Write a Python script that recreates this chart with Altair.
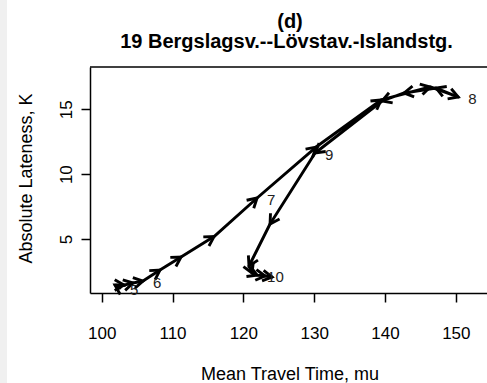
import math
import altair as alt
import pandas as pd

# ---- data ----
mean_travel_time = [102.58, 101.88, 103.15, 104.42, 105.83, 108.23, 111.20, 115.86,
                    121.94, 130.27, 139.45, 146.37, 150.33, 147.22, 142.70, 139.59,
                    130.13, 123.77, 120.80, 121.23, 121.94, 123.07, 124.05]
absolute_lateness = [1.22, 1.45, 1.45, 1.61, 1.76, 2.61, 3.61, 5.19,
                     8.16, 12.09, 15.72, 16.72, 15.95, 16.64, 16.26, 15.64,
                     11.63, 6.16, 2.92, 2.38, 2.22, 2.15, 2.07]
hour_labels = ["5", "", "", "", "6", "", "", "", "7", "", "", "", "8", "", "", "",
               "9", "", "", "", "10", "", ""]
x_ticks = [100, 110, 120, 130, 140, 150]
y_ticks = [5, 10, 15]
title_lines = ["(d)", "19 Bergslagsv.--Lövstav.-Islandstg."]
x_title = "Mean Travel Time, mu"
y_title = "Absolute Lateness, K"

# ---- layout ----
W, H = 397, 226
XDOM = [98.35, 154.4]
YDOM = [0.84, 18.26]
FONT = "Liberation Sans"
sx = W / (XDOM[1] - XDOM[0])
sy = H / (YDOM[1] - YDOM[0])

n = len(mean_travel_time)
df = pd.DataFrame({"x": mean_travel_time, "y": absolute_lateness,
                   "i": list(range(n)), "lab": hour_labels})

rows = []
for k in range(1, n):
    dxp = (mean_travel_time[k] - mean_travel_time[k - 1]) * sx
    dyp = (absolute_lateness[k] - absolute_lateness[k - 1]) * sy
    ang = math.degrees(math.atan2(dxp, dyp)) % 360
    rows.append({"x": mean_travel_time[k], "y": absolute_lateness[k], "angle": ang})
arr = pd.DataFrame(rows)
labs = df[df["lab"] != ""]

xscale = alt.Scale(domain=XDOM, nice=False, zero=False)
yscale = alt.Scale(domain=YDOM, nice=False, zero=False)

xaxis = alt.Axis(values=x_ticks, title=x_title, grid=False,
                 domainColor="black", domainWidth=1.5, tickColor="black", tickWidth=1.5,
                 tickSize=9, labelFontSize=17, labelColor="black", labelFont=FONT,
                 labelBaseline="alphabetic", labelPadding=36, labelFlush=False,
                 labelOverlap=False, titleFontSize=18, titleFont=FONT,
                 titleFontWeight="normal", titleColor="black", titleY=86,
                 titleBaseline="alphabetic", titleX=W / 2 + 1, titleAlign="center")
yaxis = alt.Axis(values=y_ticks, title=y_title, grid=False,
                 domainColor="black", domainWidth=1.5, tickColor="black", tickWidth=1.5,
                 tickSize=9, labelFontSize=17, labelColor="black", labelFont=FONT,
                 labelAngle=270, labelAlign="center", labelBaseline="alphabetic",
                 labelPadding=10, labelFlush=False, labelOverlap=False,
                 titleFontSize=18, titleFont=FONT, titleFontWeight="normal",
                 titleColor="black", titleAngle=270, titleX=-59, titleY=H / 2 - 2,
                 titleBaseline="alphabetic", titleAlign="center")

strip = alt.Chart(pd.DataFrame({"a": [0]})).mark_rect(color="#f0f0f0").encode(
    x=alt.value(-90), x2=alt.value(-83), y=alt.value(-67), y2=alt.value(H + 90))

top_border = alt.Chart(pd.DataFrame({"a": [0]})).mark_rule(
    color="black", strokeWidth=1.5).encode(
    x=alt.value(0), x2=alt.value(W), y=alt.value(0))

path = alt.Chart(df).mark_line(color="black", strokeWidth=2.9,
                               strokeCap="round", strokeJoin="round").encode(
    x=alt.X("x:Q", scale=xscale, axis=xaxis),
    y=alt.Y("y:Q", scale=yscale, axis=yaxis),
    order="i:Q")

heads = alt.Chart(arr).mark_point(
    shape="M-0.5,0.866L0,0L0.5,0.866", filled=False, size=460,
    strokeWidth=2.9, color="black", opacity=1, strokeJoin="miter").encode(
    x=alt.X("x:Q", scale=xscale),
    y=alt.Y("y:Q", scale=yscale),
    angle=alt.Angle("angle:Q", scale=None))

point_labels = alt.Chart(labs).mark_text(
    align="left", baseline="middle", dx=10, dy=2, fontSize=15, font=FONT,
    color="#222222").encode(
    x=alt.X("x:Q", scale=xscale),
    y=alt.Y("y:Q", scale=yscale),
    text="lab:N")

t1 = alt.Chart(pd.DataFrame({"t": [title_lines[0]]})).mark_text(
    align="center", baseline="alphabetic", fontSize=20, fontWeight="bold",
    font=FONT, color="black").encode(
    x=alt.value(W / 2 + 1.5), y=alt.value(-39), text="t:N")
t2 = alt.Chart(pd.DataFrame({"t": [title_lines[1]]})).mark_text(
    align="center", baseline="alphabetic", fontSize=20, fontWeight="bold",
    font=FONT, color="black").encode(
    x=alt.value(W / 2 - 2), y=alt.value(-19), text="t:N")

chart = alt.layer(strip, top_border, path, heads, point_labels, t1, t2).properties(
    width=W, height=H,
    autosize=alt.AutoSizeParams(type="none"),
    padding={"left": 90, "top": 67, "right": 0, "bottom": 90},
    background="white",
).configure_view(stroke=None)

chart.save("out.html", embed_options={"renderer": "svg", "actions": False})
